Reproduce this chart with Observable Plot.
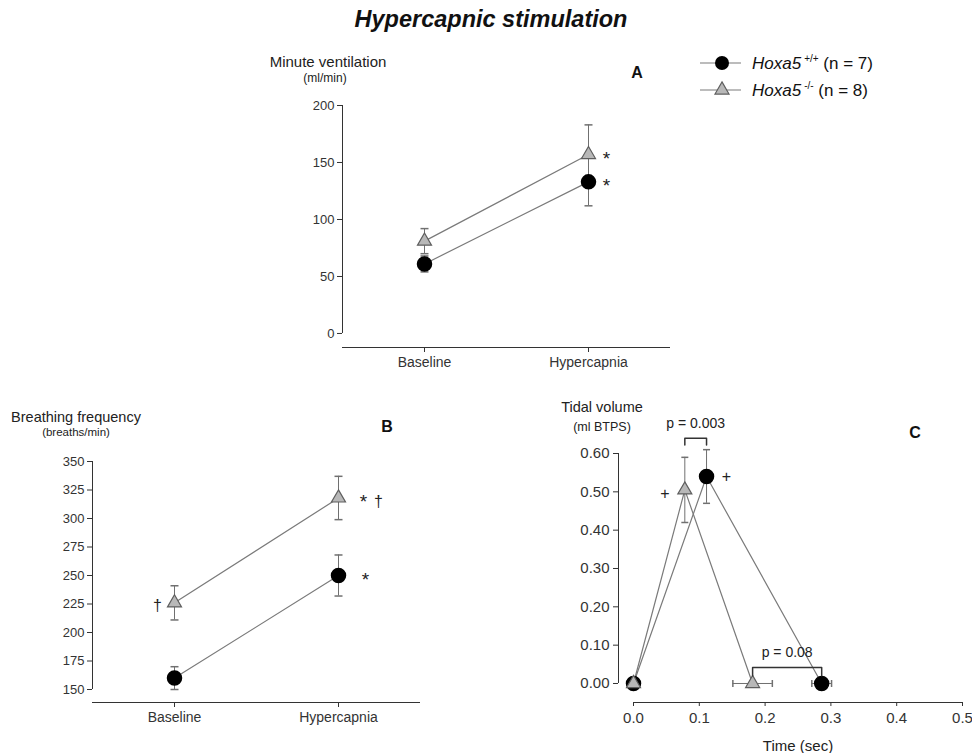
<!DOCTYPE html>
<html><head><meta charset="utf-8">
<script src="https://cdn.jsdelivr.net/npm/d3@7"></script>
<script src="https://cdn.jsdelivr.net/npm/@observablehq/plot@0.6"></script>
<style>
body{margin:0;background:#fff;font-family:"Liberation Sans",Arial,Helvetica,sans-serif;}
#page{position:relative;width:972px;height:753px;overflow:hidden;background:#fff;}
.abs{position:absolute;white-space:nowrap;color:#222;transform:translate(-50%,-50%);line-height:1;}
.panel{position:absolute;}
</style></head><body><div id="page"></div>
<script>
// ---------- DATA ----------
const conditions = ["Baseline", "Hypercapnia"];
const genotypeLabel = "Hoxa5";
const genotypes = ["+/+", "-/-"];
const nAnimals = [7, 8];

// Panel A: minute ventilation (ml/min)
const mvWT = [61, 133];
const mvWTerr = [7, 21];
const mvKO = [81, 157];
const mvKOerr = [11, 26];
const mvTicks = [0, 50, 100, 150, 200];

// Panel B: breathing frequency (breaths/min)
const bfWT = [160, 250];
const bfWTerr = [10, 18];
const bfKO = [226, 318];
const bfKOerr = [15, 19];
const bfTicks = [150, 175, 200, 225, 250, 275, 300, 325, 350];

// Panel C: tidal volume (ml BTPS) vs time (sec)
const tvTimeWT = [0, 0.111, 0.286];
const tvWT = [0, 0.54, 0];
const tvWTerrY = [0, 0.07, 0];
const tvWTerrX = [0, 0, 0.015];
const tvTimeKO = [0, 0.078, 0.181];
const tvKO = [0, 0.505, 0];
const tvKOerrY = [0, 0.085, 0];
const tvKOerrX = [0, 0, 0.03];
const tvTicks = [0, 0.1, 0.2, 0.3, 0.4, 0.5, 0.6];
const timeTicks = [0, 0.1, 0.2, 0.3, 0.4, 0.5];
const pLabels = ["p = 0.003", "p = 0.08"];

// ---------- STYLE ----------
const FONT = '"Liberation Sans", Arial, Helvetica, sans-serif';
const LINE = "#7a7a7a", ERR = "#707070", TRI_FILL = "#b8b8b8", TRI_STROKE = "#5e5e5e", AXIS = "#333";
const capH = {draw(ctx, size){ const w = Math.sqrt(size / Math.PI); ctx.moveTo(-w, 0); ctx.lineTo(w, 0); }};
const capV = {draw(ctx, size){ const w = Math.sqrt(size / Math.PI); ctx.moveTo(0, -w); ctx.lineTo(0, w); }};
const page = document.getElementById("page");

function place(node, left, top){
  node.classList.add("panel");
  node.style.left = left + "px"; node.style.top = top + "px";
  page.appendChild(node);
}
function label(html, x, y, css){
  const d = document.createElement("div");
  d.className = "abs"; d.innerHTML = html;
  d.style.left = x + "px"; d.style.top = y + "px";
  Object.assign(d.style, css || {});
  page.appendChild(d);
}

function categoryPanel(o){
  const wt = o.wt.map((y, i) => ({x: i, y, e: o.wtErr[i]}));
  const ko = o.ko.map((y, i) => ({x: i, y, e: o.koErr[i]}));
  const all = [...wt, ...ko];
  const annots = o.annots.map(a => Plot.text([a], {x: "x", y: "y", text: "t", dx: a.dx, dy: a.dy, fontSize: a.size || 15, fill: "#222"}));
  return Plot.plot({
    width: o.width, height: o.height,
    marginLeft: o.ml, marginRight: o.mr, marginTop: o.mt, marginBottom: o.mb,
    style: {fontFamily: FONT, fontSize: "13px", color: "#222", background: "transparent", overflow: "visible"},
    x: {domain: [-0.5, 1.5], axis: null, label: null},
    y: {domain: o.ydomain, axis: null, label: null},
    marks: [
      Plot.ruleY([o.ydomain[0]], {x1: -0.5, x2: 1.5, stroke: AXIS}),
      Plot.ruleX([-0.5], {y1: o.ticks[0], y2: o.ticks[o.ticks.length - 1], stroke: AXIS}),
      Plot.axisY({ticks: o.ticks, tickSize: 5, tickPadding: 3, color: AXIS, fontSize: 13, label: null}),
      Plot.axisX({ticks: [0, 1], tickFormat: i => conditions[i], tickSize: 5, tickPadding: 5, color: AXIS, fontSize: 14, label: null}),
      Plot.line(wt, {x: "x", y: "y", stroke: LINE, strokeWidth: 1.2}),
      Plot.line(ko, {x: "x", y: "y", stroke: LINE, strokeWidth: 1.2}),
      Plot.ruleX(all, {x: "x", y1: d => d.y - d.e, y2: d => d.y + d.e, stroke: ERR}),
      Plot.dot(all, {x: "x", y: d => d.y - d.e, symbol: capH, r: 4, stroke: ERR}),
      Plot.dot(all, {x: "x", y: d => d.y + d.e, symbol: capH, r: 4, stroke: ERR}),
      Plot.dot(wt, {x: "x", y: "y", r: 7, fill: "black", stroke: "black"}),
      Plot.dot(ko, {x: "x", y: "y", r: 5.2, symbol: "triangle", fill: TRI_FILL, stroke: TRI_STROKE, strokeWidth: 1.2}),
      ...annots
    ]
  });
}

// Panel A
place(categoryPanel({
  width: 400, height: 290, ml: 52, mr: 20, mt: 15, mb: 33,
  ydomain: [-12.3, 200], ticks: mvTicks,
  wt: mvWT, wtErr: mvWTerr, ko: mvKO, koErr: mvKOerr,
  annots: [
    {x: 1, y: mvKO[1], t: "*", dx: 18, dy: 4, size: 19},
    {x: 1, y: mvWT[1], t: "*", dx: 18, dy: 4, size: 19}
  ]
}), 290, 90);

// Panel B
place(categoryPanel({
  width: 440, height: 358, ml: 92, mr: 20, mt: 66, mb: 51,
  ydomain: [138.6, 350], ticks: bfTicks,
  wt: bfWT, wtErr: bfWTerr, ko: bfKO, koErr: bfKOerr,
  annots: [
    {x: 1, y: bfKO[1], t: "*", dx: 25, dy: 4, size: 19},
    {x: 1, y: bfKO[1], t: "†", dx: 40, dy: 4, size: 16},
    {x: 1, y: bfWT[1], t: "*", dx: 27, dy: 4, size: 19},
    {x: 0, y: bfKO[0], t: "†", dx: -17, dy: 3, size: 16}
  ]
}), 0, 395);

// Panel C
(function(){
  const wt = tvTimeWT.map((x, i) => ({x, y: tvWT[i], ey: tvWTerrY[i], ex: tvWTerrX[i]}));
  const ko = tvTimeKO.map((x, i) => ({x, y: tvKO[i], ey: tvKOerrY[i], ex: tvKOerrX[i]}));
  const all = [...wt, ...ko];
  const vErr = all.filter(d => d.ey > 0), hErr = all.filter(d => d.ex > 0);
  const xdom = [-0.0228, 0.5], ydom = [-0.0496, 0.6];
  const brackets = [
    {x1: tvTimeKO[1], x2: tvTimeWT[1], y: 0.64, drop: 0.018, t: pLabels[0]},
    {x1: tvTimeKO[2], x2: tvTimeWT[2], y: 0.042, drop: 0.022, t: pLabels[1]}
  ];
  const bracketMarks = brackets.flatMap(b => [
    Plot.line([[b.x1, b.y - b.drop], [b.x1, b.y], [b.x2, b.y], [b.x2, b.y - b.drop]], {stroke: "#333", strokeWidth: 1.5}),
    Plot.text([b], {x: d => (d.x1 + d.x2) / 2, y: "y", text: "t", dy: -15, fontSize: 14, fill: "#222"})
  ]);
  const plot = Plot.plot({
    width: 432, height: 358, marginLeft: 78, marginRight: 10, marginTop: 58, marginBottom: 51,
    style: {fontFamily: FONT, fontSize: "15px", color: "#222", background: "transparent", overflow: "visible"},
    x: {domain: xdom, axis: null, label: null},
    y: {domain: ydom, axis: null, label: null},
    marks: [
      Plot.ruleY([ydom[0]], {x1: timeTicks[0], x2: timeTicks[timeTicks.length - 1], stroke: AXIS}),
      Plot.ruleX([xdom[0]], {y1: tvTicks[0], y2: tvTicks[tvTicks.length - 1], stroke: AXIS}),
      Plot.axisY({ticks: tvTicks, tickFormat: d3.format(".2f"), tickSize: 5, tickPadding: 4, color: AXIS, fontSize: 15, label: null}),
      Plot.axisX({ticks: timeTicks, tickFormat: d3.format(".1f"), tickSize: 4, tickPadding: 6, color: AXIS, fontSize: 15, label: null}),
      Plot.line(wt, {x: "x", y: "y", stroke: LINE, strokeWidth: 1.2}),
      Plot.line(ko, {x: "x", y: "y", stroke: LINE, strokeWidth: 1.2}),
      Plot.ruleX(vErr, {x: "x", y1: d => d.y - d.ey, y2: d => d.y + d.ey, stroke: ERR}),
      Plot.dot(vErr, {x: "x", y: d => d.y - d.ey, symbol: capH, r: 3.5, stroke: ERR}),
      Plot.dot(vErr, {x: "x", y: d => d.y + d.ey, symbol: capH, r: 3.5, stroke: ERR}),
      Plot.ruleY(hErr, {y: "y", x1: d => d.x - d.ex, x2: d => d.x + d.ex, stroke: ERR}),
      Plot.dot(hErr, {x: d => d.x - d.ex, y: "y", symbol: capV, r: 3.5, stroke: ERR}),
      Plot.dot(hErr, {x: d => d.x + d.ex, y: "y", symbol: capV, r: 3.5, stroke: ERR}),
      Plot.dot(wt, {x: "x", y: "y", r: 7, fill: "black", stroke: "black"}),
      Plot.dot(ko, {x: "x", y: "y", r: 5.2, symbol: "triangle", fill: TRI_FILL, stroke: TRI_STROKE, strokeWidth: 1.2}),
      Plot.text([ko[1]], {x: "x", y: "y", text: () => "+", dx: -20, dy: 4, fontSize: 16, fill: "#222"}),
      Plot.text([wt[1]], {x: "x", y: "y", text: () => "+", dx: 20, dy: 0, fontSize: 16, fill: "#222"}),
      ...bracketMarks
    ]
  });
  place(plot, 540, 395);
})();

// ---------- TEXT ----------
label("Hypercapnic stimulation", 491, 20, {fontSize: "23.5px", fontWeight: "bold", fontStyle: "italic", color: "#111"});
label("Minute ventilation", 328, 61, {fontSize: "15px"});
label("(ml/min)", 325, 78, {fontSize: "12px"});
label("A", 637, 73, {fontSize: "16px", fontWeight: "bold", color: "#111"});
label("Breathing frequency", 76, 417, {fontSize: "14.5px"});
label("(breaths/min)", 76, 433, {fontSize: "11.5px"});
label("B", 387, 427, {fontSize: "16px", fontWeight: "bold", color: "#111"});
label("Tidal volume", 602, 407, {fontSize: "14.5px"});
label("(ml BTPS)", 602, 427, {fontSize: "12.5px"});
label("C", 915, 433, {fontSize: "16px", fontWeight: "bold", color: "#111"});
label("Time (sec)", 798, 745, {fontSize: "15px"});

// ---------- LEGEND ----------
(function(){
  const rowsY = [63, 90];
  const svg = d3.create("svg").attr("width", 60).attr("height", 50)
    .style("position", "absolute").style("left", "692px").style("top", "52px");
  genotypes.forEach((g, i) => {
    const y = rowsY[i] - 52;
    svg.append("line").attr("x1", 8).attr("x2", 49).attr("y1", y).attr("y2", y).attr("stroke", LINE).attr("stroke-width", 1.2);
    if (i === 0) svg.append("circle").attr("cx", 30).attr("cy", y).attr("r", 7).attr("fill", "black");
    else svg.append("path").attr("transform", `translate(30,${y})`)
      .attr("d", d3.symbol(d3.symbolTriangle, Math.PI * 5.2 * 5.2)())
      .attr("fill", TRI_FILL).attr("stroke", TRI_STROKE).attr("stroke-width", 1.2);
    const d = document.createElement("div");
    d.style.cssText = `position:absolute;left:752px;top:${rowsY[i]}px;transform:translateY(-50%);white-space:nowrap;font-size:17px;color:#111;line-height:1;`;
    d.innerHTML = `<i>${genotypeLabel}</i><sup style="font-size:10px;vertical-align:7px;margin-left:3px">${g}</sup> (n = ${nAnimals[i]})`;
    page.appendChild(d);
  });
  page.appendChild(svg.node());
})();
</script>
</body></html>
